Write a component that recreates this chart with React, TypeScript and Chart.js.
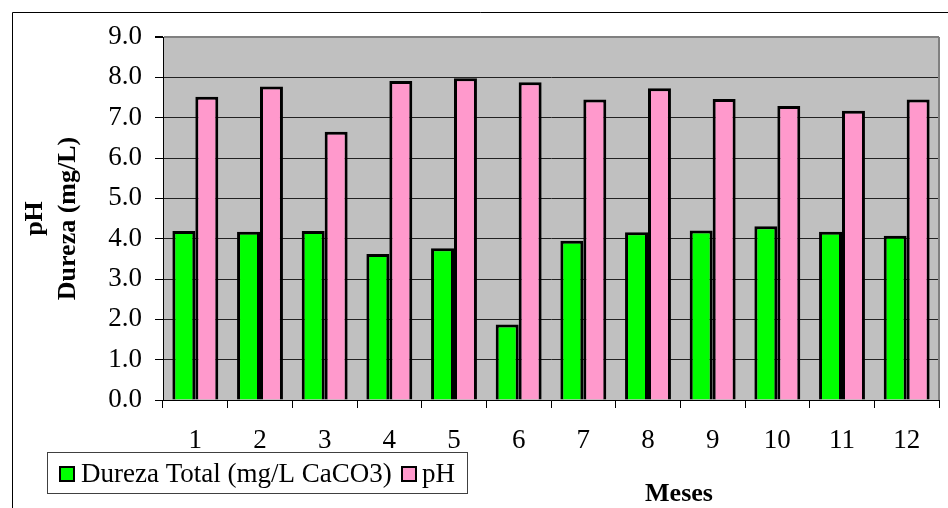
import React, { useEffect, useRef } from "react";
import { Chart, registerables } from "chart.js";

Chart.register(...registerables);

const months = ["1", "2", "3", "4", "5", "6", "7", "8", "9", "10", "11", "12"];
const dureza = [4.19, 4.17, 4.19, 3.62, 3.76, 1.87, 3.95, 4.16, 4.2, 4.31, 4.17, 4.07];
const ph = [7.52, 7.77, 6.65, 7.91, 7.98, 7.88, 7.45, 7.73, 7.46, 7.29, 7.17, 7.45];
const seriesNames = ["Dureza Total (mg/L CaCO3)", "pH"];
const yTitleLines = ["pH", "Dureza (mg/L)"];
const xTitle = "Meses";

const SERIF = '"Liberation Serif", "Times New Roman", serif';

const decorPlugin = {
  id: "decor",
  beforeDraw(chart: any) {
    const { ctx, chartArea } = chart;
    ctx.save();
    ctx.fillStyle = "#ffffff";
    ctx.fillRect(0, 0, chart.width, chart.height);
    ctx.fillStyle = "#C0C0C0";
    ctx.fillRect(chartArea.left, chartArea.top, chartArea.right - chartArea.left, chartArea.bottom - chartArea.top);
    ctx.restore();
  },
  afterDraw(chart: any) {
    const { ctx, chartArea } = chart;
    ctx.save();
    ctx.strokeStyle = "#808080";
    ctx.lineWidth = 2;
    ctx.beginPath();
    ctx.moveTo(chartArea.right, chartArea.top);
    ctx.lineTo(chartArea.right, chartArea.bottom);
    ctx.stroke();

    ctx.strokeStyle = "#000";
    ctx.lineWidth = 1;
    ctx.beginPath();
    ctx.moveTo(12.5, chart.height);
    ctx.lineTo(12.5, 12.5);
    ctx.lineTo(chart.width, 12.5);
    ctx.stroke();

    ctx.fillStyle = "#000";
    ctx.font = "bold 26px " + SERIF;
    ctx.textAlign = "center";
    ctx.textBaseline = "alphabetic";
    const cy = (chartArea.top + chartArea.bottom) / 2;
    const xs = [42, 75];
    yTitleLines.forEach((t, i) => {
      ctx.save();
      ctx.translate(xs[i], cy);
      ctx.rotate(-Math.PI / 2);
      ctx.fillText(t, 0, 0);
      ctx.restore();
    });

    ctx.fillText(xTitle, 679, 501);

    ctx.fillStyle = "#fff";
    ctx.fillRect(47, 452, 421, 41);
    ctx.strokeStyle = "#404040";
    ctx.lineWidth = 1;
    ctx.strokeRect(47.5, 452.5, 420, 41);
    const ds = chart.data.datasets;
    const items = [
      { x: 60, tx: 81 },
      { x: 402, tx: 422 },
    ];
    ctx.font = "27px " + SERIF;
    ctx.textAlign = "left";
    ctx.textBaseline = "middle";
    items.forEach((it, i) => {
      ctx.fillStyle = ds[i].backgroundColor;
      ctx.fillRect(it.x, 467, 14, 14);
      ctx.strokeStyle = "#000";
      ctx.lineWidth = 2;
      ctx.strokeRect(it.x, 467, 14, 14);
      ctx.fillStyle = "#000";
      ctx.fillText(ds[i].label, it.tx, 475);
    });
    ctx.restore();
  },
};

export default function App() {
  const ref = useRef<HTMLCanvasElement>(null);
  useEffect(() => {
    if (!ref.current) return;
    const chart = new Chart(ref.current, {
      type: "bar",
      data: {
        labels: months,
        datasets: [
          {
            label: seriesNames[0],
            data: dureza,
            backgroundColor: "#00FF00",
            borderColor: "#000",
            borderWidth: 3,
          },
          {
            label: seriesNames[1],
            data: ph,
            backgroundColor: "#FF99CC",
            borderColor: "#000",
            borderWidth: 3,
          },
        ],
      },
      options: {
        responsive: false,
        animation: false,
        devicePixelRatio: 1,
        layout: { padding: { left: 0, top: 37, right: 9, bottom: 0 } },
        datasets: { bar: { categoryPercentage: 0.71, barPercentage: 1 } },
        plugins: {
          legend: { display: false },
          tooltip: { enabled: false },
          title: { display: false },
        },
        scales: {
          x: {
            grid: { drawOnChartArea: false, offset: true, tickLength: 8, color: "#000" },
            border: { display: true, color: "#000", width: 1 },
            ticks: { color: "#000", font: { family: SERIF, size: 27 }, padding: 17, maxRotation: 0 },
            afterFit: (s: any) => {
              s.height = 108;
            },
          },
          y: {
            min: 0,
            max: 9,
            ticks: {
              stepSize: 1,
              color: "#000",
              font: { family: SERIF, size: 27 },
              padding: 13,
              callback: (v: any) => Number(v).toFixed(1),
            },
            grid: {
              color: (c: any) => (c.tick && c.tick.value === 9 ? "#808080" : "#222"),
              tickColor: "#000",
              tickLength: 8,
              lineWidth: (c: any) => (c.tick && c.tick.value === 9 ? 2 : 1),
            },
            border: { display: true, color: "#000", width: 1 },
            afterFit: (s: any) => {
              s.width = 163;
            },
          },
        },
      },
      plugins: [decorPlugin],
    });
    return () => chart.destroy();
  }, []);
  return (
    <div style={{ position: "absolute", left: 0, top: 0, width: 948, height: 508 }}>
      <canvas ref={ref} width={948} height={508} style={{ width: 948, height: 508 }} />
    </div>
  );
}
